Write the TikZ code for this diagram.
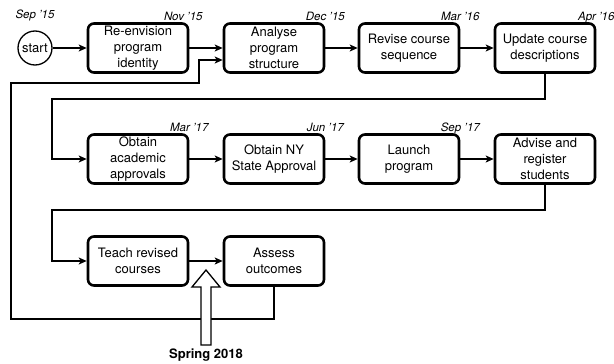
\documentclass[tikz,border=0pt]{standalone}
\usepackage{fontspec}
\setmainfont{TeX Gyre Heros}
\usetikzlibrary{arrows.meta, positioning}
\definecolor{ink}{HTML}{000000}
\def\boxW{100}
\def\boxH{49}
\def\rowA{48}
\def\rowB{159}
\def\rowC{261}
\def\colA{138}
\def\colB{274}
\def\colC{409}
\def\colD{545}

\begin{document}
\begin{tikzpicture}[
    x=1pt, y=-1pt,
    font=\fontsize{13}{16}\selectfont,
    task/.style={draw=ink, line width=2.6pt, rounded corners=6pt,
                 minimum width=\boxW pt, minimum height=\boxH pt,
                 align=center, inner sep=2pt},
    startnode/.style={draw=ink, circle, line width=1.3pt,
                      minimum size=34pt, inner sep=0pt},
    date/.style={font=\fontsize{11.5}{13}\selectfont\itshape, anchor=base,
                 inner sep=0pt},
    link/.style={-{Stealth[length=8pt,width=7pt,inset=2pt]}, line width=1.3pt, draw=ink},
    route/.style={line width=1.3pt, draw=ink},
    hollow/.style={draw=ink, line width=1.3pt, fill=white},
    ]
\useasboundingbox (0,0) rectangle (614,364);

% ====================================================================
% Row 1 -- program identity and structure
% ====================================================================
\node[startnode] (start) at (35,\rowA) {start};
\node[task] (renv) at (\colA,\rowA) {Re-envision\\program\\identity};
\node[task] (anal) at (\colB,\rowA) {Analyse\\program\\structure};
\node[task] (rev)  at (\colC,\rowA) {Revise course\\sequence};
\node[task] (upd)  at (\colD,\rowA) {Update course\\descriptions};

\node[date] (dSep15) at ([yshift=12pt]start.north) {Sep '15};
\node[date] (dNov15) at ([xshift=-6pt,yshift=2pt]renv.north east) {Nov '15};
\node[date] (dDec15) at ([yshift=2pt]anal.north east) {Dec '15};
\node[date] (dMar16) at ([yshift=2pt]rev.north east) {Mar '16};
\node[date] (dApr16) at ([yshift=2pt]upd.north east) {Apr '16};

\draw[link] (start) -- (renv);
\draw[link] (renv) -- (anal);
\draw[link] (anal) -- (rev);
\draw[link] (rev) -- (upd);

% ====================================================================
% Row 2 -- approvals and launch
% ====================================================================
\node[task] (acad)   at (\colA,\rowB) {Obtain\\academic\\approvals};
\node[task] (nys)    at (\colB,\rowB) {Obtain NY\\State Approval};
\node[task] (launch) at (\colC,\rowB) {Launch\\program};
\node[task] (advise) at (\colD,\rowB) {Advise and\\register\\students};

\node[date] (dMar17) at ([yshift=2pt]acad.north east) {Mar '17};
\node[date] (dJun17) at ([yshift=2pt]nys.north east) {Jun '17};
\node[date] (dSep17) at ([yshift=2pt]launch.north east) {Sep '17};

\coordinate (turnA) at (52,99);
\draw[link] (upd.south) |- (turnA) |- (acad.west);
\draw[link] (acad) -- (nys);
\draw[link] (nys) -- (launch);
\draw[link] (launch) -- (advise);

% ====================================================================
% Row 3 -- teaching and assessment, feedback loop
% ====================================================================
\node[task] (teach)  at (\colA,\rowC) {Teach revised\\courses};
\node[task] (assess) at (\colB,\rowC) {Assess\\outcomes};

\coordinate (turnB) at (52,210);
\draw[link] (advise.south) |- (turnB) |- (teach.west);
\draw[link] (teach) -- (assess);

% feedback from assessment back into the structure analysis
\coordinate (fbLow) at (11,319);
\coordinate (fbUp)  at (11,83);
\coordinate (fbIn)  at (199,83);
\draw[link] (assess.south) |- (fbLow) -- (fbUp) -- (fbIn)
  |- ([yshift=-12pt]anal.west);

% Spring 2018 marker
\node[font=\fontsize{13}{16}\selectfont\bfseries] (spring) at (206,355) {Spring 2018};
\coordinate (tipS) at (206,270);
\draw[hollow] (201,345) -- (201,287) -- (192,287) -- (tipS)
  -- (220,287) -- (211,287) -- (211,345) -- cycle;

\end{tikzpicture}
\end{document}
